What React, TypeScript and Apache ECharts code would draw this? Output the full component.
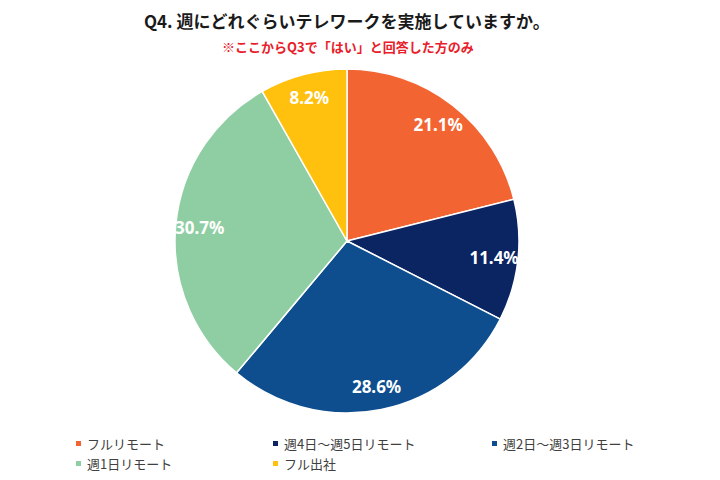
import React, { useEffect, useRef } from "react";
import * as echarts from "echarts";

const categories = ["フルリモート", "週4日〜週5日リモート", "週2日〜週3日リモート", "週1日リモート", "フル出社"];
const values = [21.1, 11.4, 28.6, 30.7, 8.2];
const colors = ["#F26533", "#0B2562", "#0E4E8F", "#8FCEA3", "#FFC10E"];
const titleText = "Q4. 週にどれぐらいテレワークを実施していますか。";
const subtitleText = "※ここからQ3で「はい」と回答した方のみ";

const FONT = "'Noto Sans CJK JP', 'Noto Sans', sans-serif";

export default function App() {
  const ref = useRef<HTMLDivElement>(null);
  useEffect(() => {
    document.body.style.margin = "0";
    const chart = echarts.init(ref.current!, null, { renderer: "svg" });
    const data = categories.map((name, i) => ({ name, value: values[i], itemStyle: { color: colors[i] } }));
    const legendStyle = {
      orient: "vertical" as const,
      icon: "rect",
      itemWidth: 7,
      itemHeight: 7,
      itemGap: 7,
      textStyle: { fontFamily: FONT, fontSize: 13, color: "#404040" },
      top: 432,
    };
    chart.setOption({
      animation: false,
      backgroundColor: "#ffffff",
      title: [
        {
          text: titleText,
          left: 139,
          top: 7,
          textStyle: { fontFamily: FONT, fontSize: 17, fontWeight: "bold", color: "#1a1a1a" },
        },
        {
          text: subtitleText,
          left: 217,
          top: 35,
          textStyle: { fontFamily: FONT, fontSize: 13, fontWeight: "bold", color: "#E8202A" },
        },
      ],
      legend: [
        { ...legendStyle, left: 69, data: [categories[0], categories[3]] },
        { ...legendStyle, left: 266, data: [categories[1], categories[4]] },
        { ...legendStyle, left: 485, data: [categories[2]] },
      ],
      series: [
        {
          type: "pie",
          center: [347, 241],
          radius: [0, 172],
          startAngle: 90,
          clockwise: true,
          data,
          label: { show: false },
          labelLine: { show: false },
          itemStyle: { borderColor: "#ffffff", borderWidth: 1.5 },
          emphasis: { disabled: true },
        },
        {
          type: "pie",
          center: [347, 241],
          radius: [118, 172],
          startAngle: 90,
          clockwise: true,
          silent: true,
          legendHoverLink: false,
          data: categories.map((name, i) => ({ name, value: values[i], itemStyle: { color: "rgba(0,0,0,0)" } })),
          itemStyle: { borderWidth: 0 },
          label: {
            show: true,
            position: "inside",
            formatter: (p: any) => p.value.toFixed(1) + "%",
            fontFamily: "'Noto Sans', Roboto, sans-serif",
            fontSize: 17,
            fontWeight: "bold",
            color: "#ffffff",
          },
          labelLine: { show: false },
          emphasis: { disabled: true },
        },
      ],
    });
    return () => chart.dispose();
  }, []);
  return <div ref={ref} style={{ position: "absolute", left: 0, top: 0, width: 720, height: 480 }} />;
}
